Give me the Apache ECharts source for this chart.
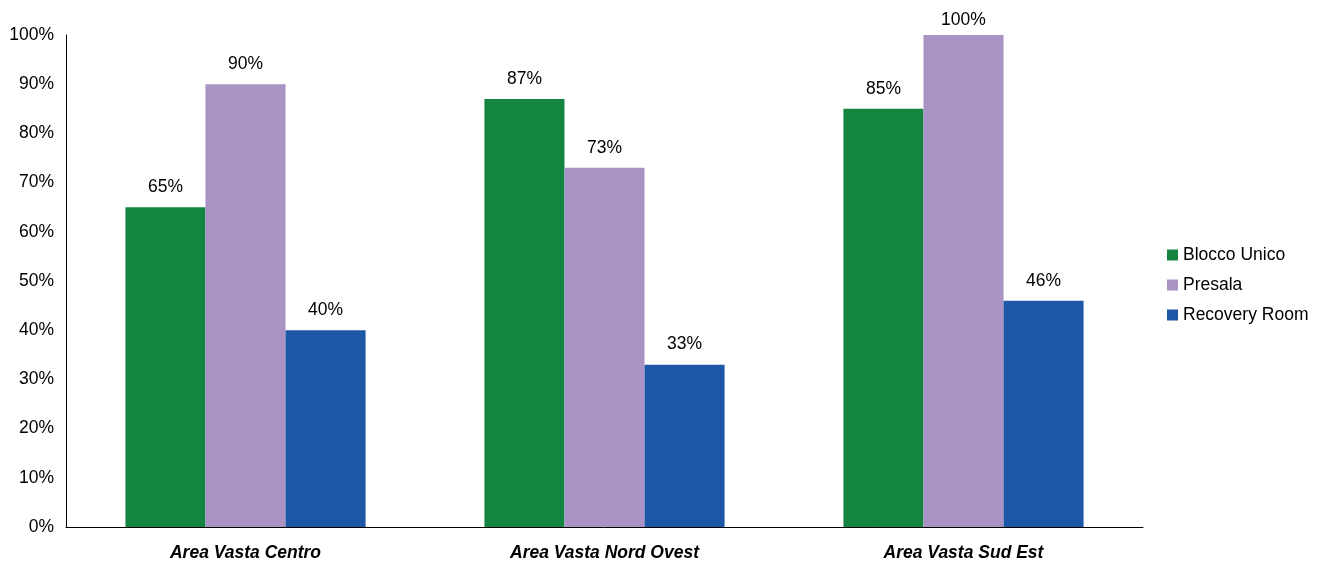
<!DOCTYPE html>
<html><head><meta charset="utf-8">
<script src="https://cdn.jsdelivr.net/npm/echarts@6/dist/echarts.min.js"></script>
<style>html,body{margin:0;padding:0;background:#fff}#c{width:1323px;height:562px}</style>
</head><body><div id="c"></div>
<script>
const categories = ['Area Vasta Centro', 'Area Vasta Nord Ovest', 'Area Vasta Sud Est'];
const seriesNames = ['Blocco Unico', 'Presala', 'Recovery Room'];
const blocco = [65, 87, 85];
const presala = [90, 73, 100];
const recovery = [40, 33, 46];
const colors = ['#138540', '#A992C4', '#1F57A7'];
const font = 'Liberation Sans, Arial, sans-serif';
const chart = echarts.init(document.getElementById('c'));
const mk = (name, data, color) => ({
  name, type: 'bar', barWidth: '22.3%', barGap: '0%',
  data: data.map(v => v >= 100 ? { value: v, label: { distance: 6 } } : v),
  itemStyle: { color },
  label: { show: true, position: 'top', distance: 11, formatter: '{c}%', color: '#000', fontSize: 17.5, fontFamily: font }
});
chart.setOption({
  animation: false,
  grid: { left: 66, right: 180, top: 35, bottom: 34, containLabel: false },
  legend: {
    orient: 'vertical', left: 1162, top: 241, itemWidth: 11, itemHeight: 11, itemGap: 12,
    icon: 'rect', textStyle: { fontSize: 17.5, fontFamily: font, color: '#000' },
    data: seriesNames
  },
  xAxis: {
    type: 'category', data: categories,
    axisLine: { lineStyle: { color: '#000', width: 1 } }, axisTick: { show: false },
    axisLabel: { fontSize: 17.5, fontStyle: 'italic', fontWeight: 'bold', color: '#000', fontFamily: font, margin: 17 }
  },
  yAxis: {
    type: 'value', min: 0, max: 100, interval: 10,
    axisLine: { show: true, lineStyle: { color: '#000', width: 1 } }, axisTick: { show: false },
    splitLine: { show: false },
    axisLabel: { formatter: '{value}%', fontSize: 17.5, color: '#000', fontFamily: font, margin: 12 }
  },
  series: [mk(seriesNames[0], blocco, colors[0]), mk(seriesNames[1], presala, colors[1]), mk(seriesNames[2], recovery, colors[2])]
});
</script></body></html>
